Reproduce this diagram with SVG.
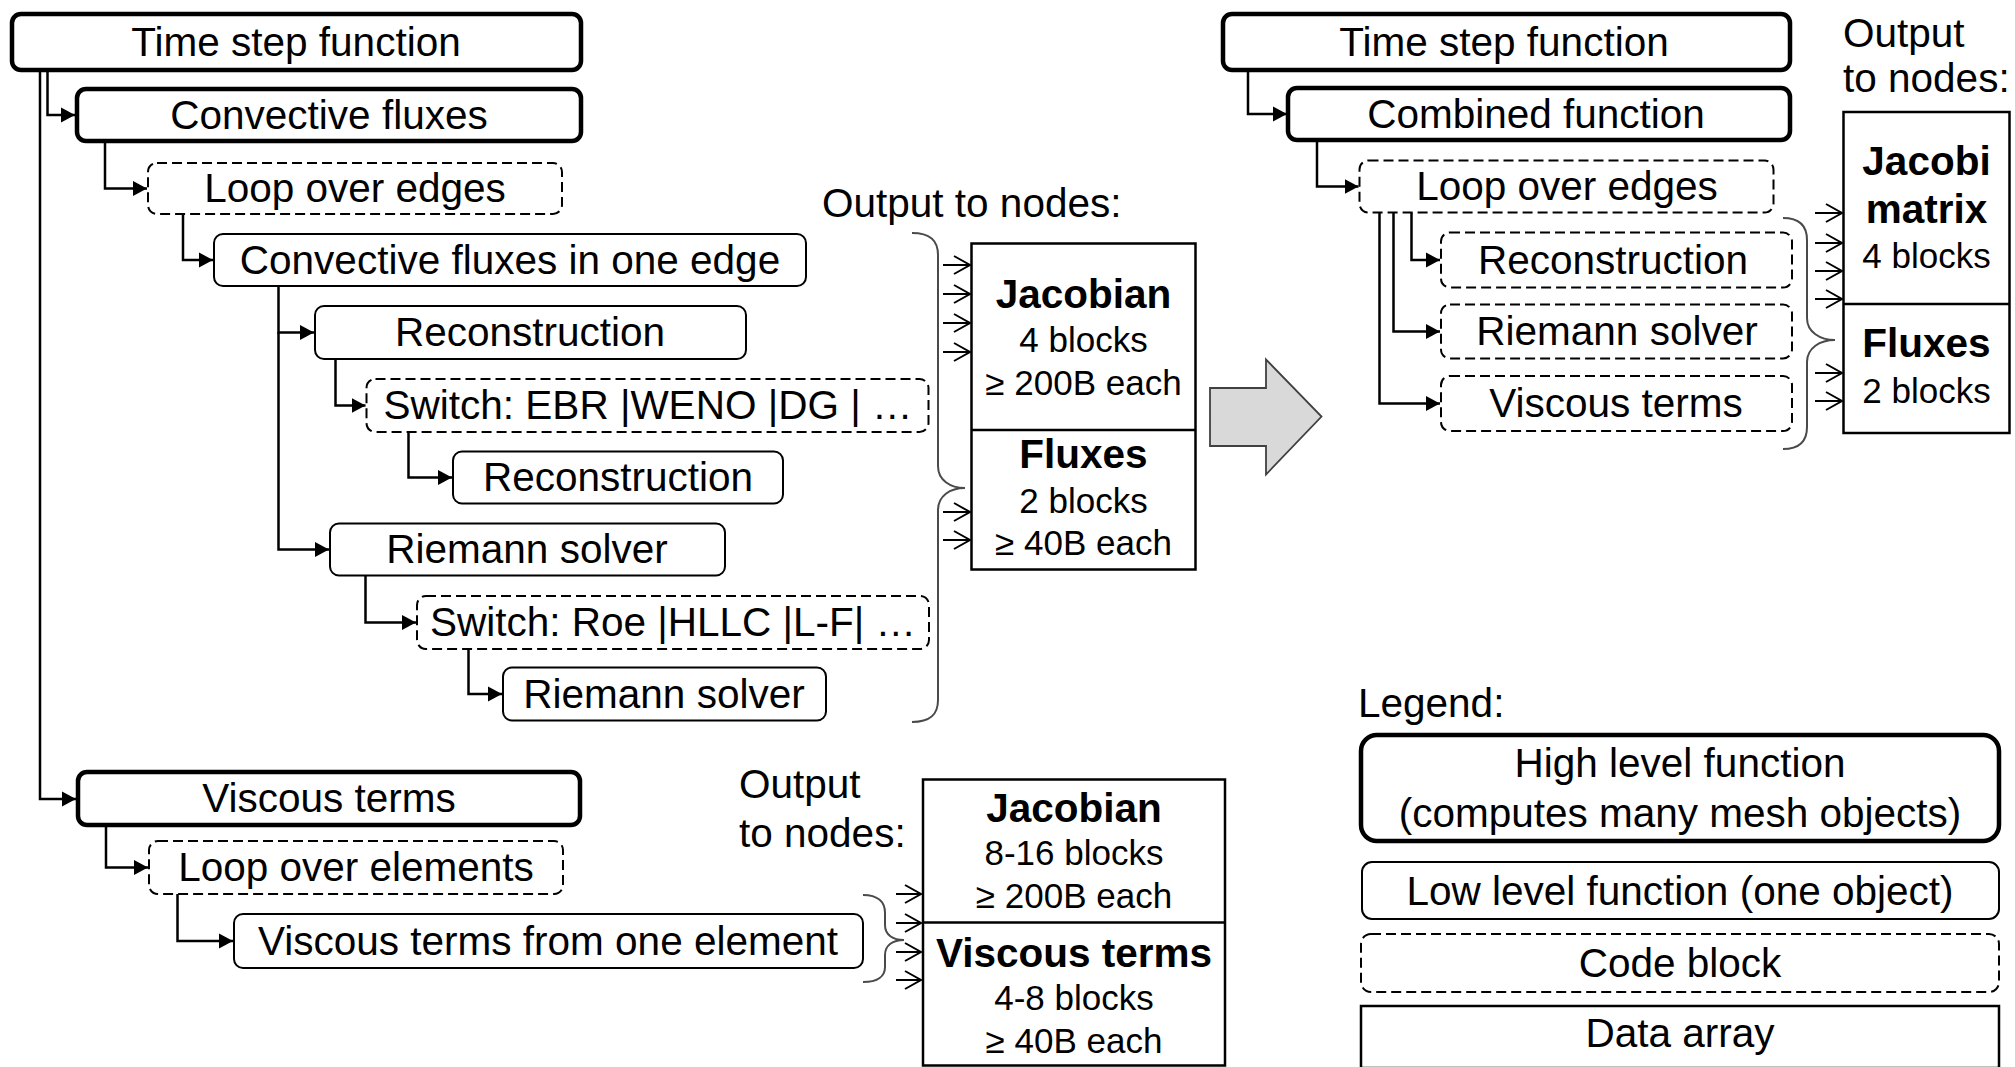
<svg xmlns="http://www.w3.org/2000/svg" width="2015" height="1067" viewBox="0 0 2015 1067">
<defs>
<style>
text{font-family:"Liberation Sans",Arial,sans-serif;font-size:40.5px;fill:#000;text-anchor:middle}
.l{text-anchor:start}
.s{font-size:35px}
.b{font-weight:bold}
.hi{fill:#fff;stroke:#000;stroke-width:4.5}
.lo{fill:#fff;stroke:#000;stroke-width:2}
.cb{fill:#fff;stroke:#000;stroke-width:2;stroke-dasharray:10 5}
.da{fill:#fff;stroke:#000;stroke-width:2.5}
.cn{fill:none;stroke:#000;stroke-width:2.5;marker-end:url(#ah)}
.out{fill:none;stroke:#000;stroke-width:2;marker-end:url(#oh)}
.br{fill:none;stroke:#4a4a4a;stroke-width:2}
</style>
<marker id="ah" markerUnits="userSpaceOnUse" markerWidth="15" markerHeight="16" refX="14" refY="8" orient="auto">
<path d="M0,0.5 L14,8 L0,15.5 Z" fill="#000"/>
</marker>
<marker id="oh" markerUnits="userSpaceOnUse" markerWidth="20" markerHeight="22" refX="17" refY="10" orient="auto">
<path d="M1,1 L17,10 L1,19" fill="none" stroke="#000" stroke-width="2"/>
</marker>
</defs>

<!-- Left tree nodes -->
<g id="l-timestep"><rect class="hi" x="12" y="14" width="569" height="56" rx="9"/><text x="296" y="56">Time step function</text></g>
<g id="l-convective"><rect class="hi" x="77" y="89" width="504" height="52" rx="9"/><text x="329" y="129">Convective fluxes</text></g>
<g id="l-loop-edges"><rect class="cb" x="148" y="163" width="414" height="51" rx="9"/><text x="355" y="202">Loop over edges</text></g>
<g id="l-cf-edge"><rect class="lo" x="214" y="234" width="592" height="52" rx="9"/><text x="510" y="274">Convective fluxes in one edge</text></g>
<g id="l-recon"><rect class="lo" x="315" y="306" width="431" height="53" rx="9"/><text x="530" y="346">Reconstruction</text></g>
<g id="l-switch-ebr"><rect class="cb" x="366.5" y="379" width="562" height="53" rx="9"/><text x="648" y="419">Switch: EBR |WENO |DG | …</text></g>
<g id="l-recon2"><rect class="lo" x="453" y="451.5" width="330" height="52" rx="9"/><text x="618" y="491">Reconstruction</text></g>
<g id="l-riemann"><rect class="lo" x="330" y="523.5" width="395" height="52" rx="9"/><text x="527" y="563">Riemann solver</text></g>
<g id="l-switch-roe"><rect class="cb" x="417" y="596" width="512" height="53" rx="9"/><text x="673" y="636">Switch: Roe |HLLC |L-F| …</text></g>
<g id="l-riemann2"><rect class="lo" x="503" y="667.5" width="323" height="53" rx="9"/><text x="664" y="708">Riemann solver</text></g>
<g id="l-viscous"><rect class="hi" x="78" y="772" width="502" height="53" rx="9"/><text x="329" y="812">Viscous terms</text></g>
<g id="l-loop-elements"><rect class="cb" x="149" y="841" width="414" height="53" rx="9"/><text x="356" y="881">Loop over elements</text></g>
<g id="l-vt-element"><rect class="lo" x="234" y="914" width="629" height="54" rx="9"/><text x="548" y="955">Viscous terms from one element</text></g>

<!-- Left data -->
<g id="l-output-label"><text class="l" x="822" y="217">Output to nodes:</text></g>
<g id="l-data">
<rect class="da" x="971.5" y="243.5" width="224" height="326"/>
<line x1="971.5" y1="430" x2="1195.5" y2="430" stroke="#000" stroke-width="2.5"/>
<text class="b" x="1083.5" y="308">Jacobian</text>
<text class="s" x="1083.5" y="352">4 blocks</text>
<text class="s" x="1083.5" y="395">≥ 200B each</text>
<text class="b" x="1083.5" y="468">Fluxes</text>
<text class="s" x="1083.5" y="513">2 blocks</text>
<text class="s" x="1083.5" y="555">≥ 40B each</text>
</g>

<g id="lv-output-label"><text class="l" x="739" y="798">Output</text><text class="l" x="739" y="847">to nodes:</text></g>
<g id="lv-data">
<rect class="da" x="923" y="779.5" width="302" height="286"/>
<line x1="923" y1="922.5" x2="1225" y2="922.5" stroke="#000" stroke-width="2.5"/>
<text class="b" x="1074" y="822">Jacobian</text>
<text class="s" x="1074" y="865">8-16 blocks</text>
<text class="s" x="1074" y="908">≥ 200B each</text>
<text class="b" x="1074" y="967">Viscous terms</text>
<text class="s" x="1074" y="1010">4-8 blocks</text>
<text class="s" x="1074" y="1053">≥ 40B each</text>
</g>

<!-- Big arrow -->
<g id="big-arrow"><path d="M1210,388 L1266,388 L1266,359.5 L1321.5,416.5 L1266,474.5 L1266,446 L1210,446 Z" fill="#d9d9d9" stroke="#404040" stroke-width="1.8"/></g>

<!-- Right tree -->
<g id="r-timestep"><rect class="hi" x="1223" y="14" width="567" height="56" rx="9"/><text x="1504" y="56">Time step function</text></g>
<g id="r-combined"><rect class="hi" x="1288" y="88" width="502" height="52" rx="9"/><text x="1536" y="128">Combined function</text></g>
<g id="r-loop-edges"><rect class="cb" x="1359.5" y="160.5" width="414" height="52" rx="9"/><text x="1567" y="200">Loop over edges</text></g>
<g id="r-recon"><rect class="cb" x="1441" y="232.5" width="351" height="55" rx="9"/><text x="1613" y="274">Reconstruction</text></g>
<g id="r-riemann"><rect class="cb" x="1441" y="304.5" width="351" height="54" rx="9"/><text x="1617" y="345">Riemann solver</text></g>
<g id="r-viscous"><rect class="cb" x="1441" y="376" width="351" height="55" rx="9"/><text x="1616" y="417">Viscous terms</text></g>

<g id="r-output-label"><text class="l" x="1843" y="47">Output</text><text class="l" x="1843" y="92">to nodes:</text></g>
<g id="r-data">
<rect class="da" x="1843.5" y="112" width="166" height="321"/>
<line x1="1843.5" y1="304" x2="2009.5" y2="304" stroke="#000" stroke-width="2.5"/>
<text class="b" x="1926.5" y="175">Jacobi</text>
<text class="b" x="1926.5" y="223">matrix</text>
<text class="s" x="1926.5" y="268">4 blocks</text>
<text class="b" x="1926.5" y="357">Fluxes</text>
<text class="s" x="1926.5" y="403">2 blocks</text>
</g>

<!-- Legend -->
<g id="legend">
<text class="l" x="1358" y="717">Legend:</text>
<g id="legend-high"><rect class="hi" x="1361" y="735" width="638" height="106" rx="16"/><text x="1680" y="777">High level function</text><text x="1680" y="827">(computes many mesh objects)</text></g>
<g id="legend-low"><rect class="lo" x="1362" y="862" width="637" height="57" rx="10"/><text x="1680" y="905">Low level function (one object)</text></g>
<g id="legend-code"><rect class="cb" x="1361" y="934" width="638" height="58" rx="10"/><text x="1680" y="977">Code block</text></g>
<g id="legend-data"><rect class="da" x="1361" y="1006" width="638" height="62"/><text x="1680" y="1047">Data array</text></g>
</g>

<!-- Connectors -->
<g id="connectors">
<path class="cn" d="M40,70 V799 H76"/>
<path class="cn" d="M47.5,70 V115 H75"/>
<path class="cn" d="M105,141 V188.5 H147"/>
<path class="cn" d="M183,214 V260 H213"/>
<path class="cn" d="M278.5,286 V332.5 H314"/>
<path class="cn" d="M278.5,332 V549.5 H329"/>
<path class="cn" d="M335.5,359 V405.5 H365.5"/>
<path class="cn" d="M408.5,432 V477.5 H452"/>
<path class="cn" d="M365.5,575.5 V622.5 H416"/>
<path class="cn" d="M468.5,649 V694 H502"/>
<path class="cn" d="M106,825 V867.5 H148"/>
<path class="cn" d="M177.5,894 V941 H233"/>
<path class="cn" d="M1248,70 V114 H1287"/>
<path class="cn" d="M1317,140 V186.5 H1358.5"/>
<path class="cn" d="M1411.5,212.5 V260 H1440"/>
<path class="cn" d="M1393.5,212.5 V331.5 H1440"/>
<path class="cn" d="M1379.5,212.5 V403.5 H1440"/>

<!-- braces -->
<path class="br" d="M912,233 C930,233 938,240 938,255 L938,466 C938,480 950,488 965,488 C950,488 938,496 938,510 L938,700 C938,715 930,722 912,722"/>
<path class="br" d="M1783,218 C1800,218 1807,226 1807,240 L1807,318 C1807,332 1820,340 1835,340 C1820,340 1807,348 1807,362 L1807,427 C1807,441 1800,449 1783,449"/>
<path class="br" d="M863,895 C878,895 885,902 885,913 L885,925 C885,935 893,940 904,940 C893,940 885,945 885,955 L885,967 C885,976 878,982 863,982"/>

<!-- output arrows -->
<path class="out" d="M943,265 H970"/>
<path class="out" d="M943,294 H970"/>
<path class="out" d="M943,323 H970"/>
<path class="out" d="M943,352 H970"/>
<path class="out" d="M943,512 H970"/>
<path class="out" d="M943,540 H970"/>
<path class="out" d="M1815,213 H1842"/>
<path class="out" d="M1815,243 H1842"/>
<path class="out" d="M1815,271 H1842"/>
<path class="out" d="M1815,299 H1842"/>
<path class="out" d="M1815,373 H1842"/>
<path class="out" d="M1815,401 H1842"/>
<path class="out" d="M896,894 H921"/>
<path class="out" d="M896,923 H921"/>
<path class="out" d="M896,952 H921"/>
<path class="out" d="M896,980 H921"/>
</g>
</svg>
